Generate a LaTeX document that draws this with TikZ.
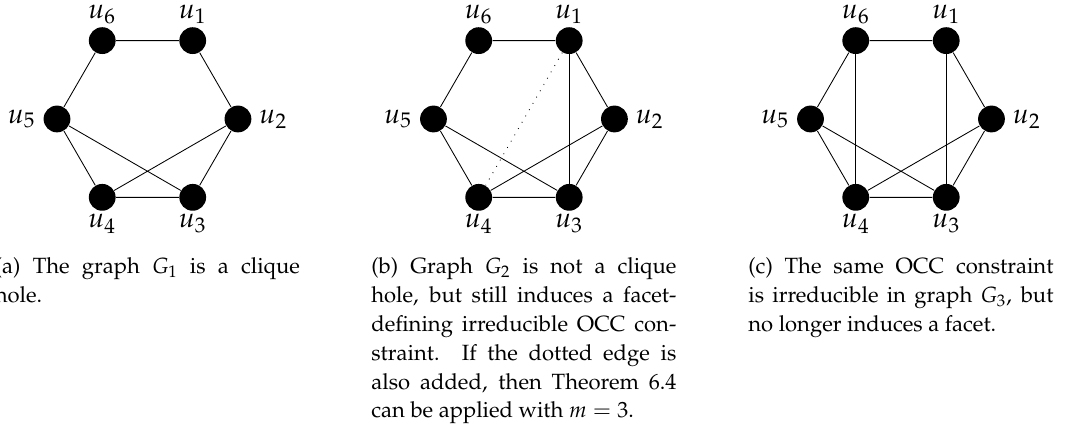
\documentclass[tikz,border=0pt]{standalone}
\usepackage[T1]{fontenc}
\usepackage{mathpazo}
\usepackage{tikz}

\begin{document}
\begin{tikzpicture}[
        vertex/.style={circle, fill=black, inner sep=0pt, minimum size=0.44cm},
        maybe/.style={dash pattern=on 0.4pt off 3pt},
        every label/.style={font=\fontsize{13}{15}\selectfont},
        caption/.style={anchor=base west, inner sep=0pt, text width=5.01cm, align=justify, font=\fontsize{10.3}{13.5}\selectfont}]
        \useasboundingbox (-2.422,1.954) rectangle (15.2,-5.206);
        % the three graphs, u1 upper right and then clockwise
        \foreach \g/\x in {a/0, b/6.183, c/12.375} {
            \begin{scope}[xshift=\x cm]
                \foreach \i/\where/\d in {1/above/-2pt, 2/right/0pt, 3/below/-2pt, 4/below/-2pt, 5/left/0pt, 6/above/-2pt}
                    \node[vertex, label={[label distance=\d]\where:$u_\i$}] (\g\i) at ({120-60*\i}:1.486) {};
                \draw (\g1) -- (\g2) -- (\g3) -- (\g4) -- (\g5) -- (\g6) -- (\g1);
                \draw (\g5) -- (\g3) (\g2) -- (\g4);
            \end{scope}
        }
        \draw (b1) -- (b3);
        \draw[maybe] (b1) -- (b4);
        \draw (c1) -- (c3) (c6) -- (c4);
        % captions
        \node[caption] (capa) at (-2.513,-2.537) {(a) The graph $G_1$ is a clique hole.};
        \node[caption] (capb) at (3.670,-2.537) {(b) Graph $G_2$ is not a clique hole, but still induces a facet-defining irreducible OCC constraint. If the dotted edge is also added, then Theorem 6.4 can be applied with $m=3$.};
        \node[caption] (capc) at (9.862,-2.537) {(c) The same OCC constraint\linebreak is irreducible in graph $G_3$, but\linebreak no longer induces a facet.};
    \end{tikzpicture}
\end{document}
